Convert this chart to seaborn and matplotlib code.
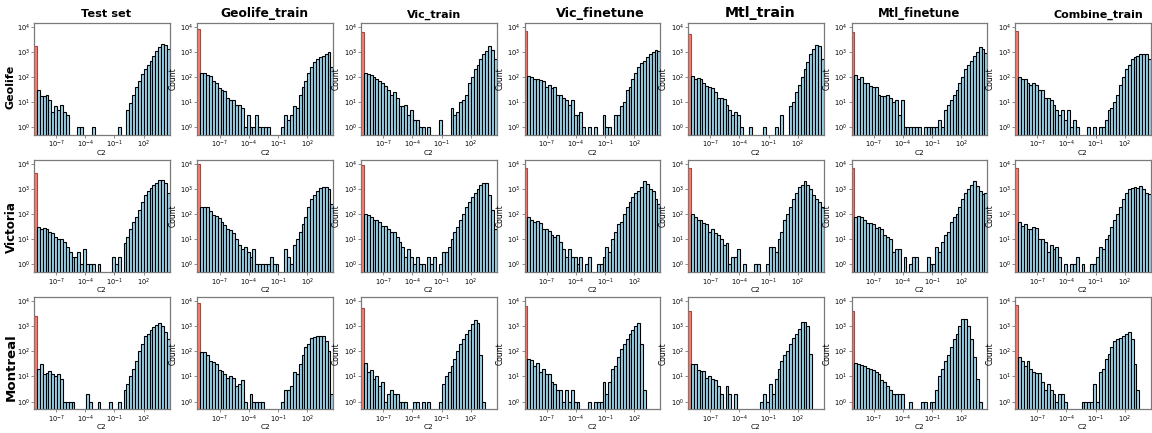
import numpy as np
import pandas as pd
import matplotlib
matplotlib.use("Agg")
import matplotlib.pyplot as plt
import seaborn as sns
from matplotlib.ticker import FixedLocator, NullLocator, LogLocator

# ---------------- data (counts per log-spaced bin; first bin = zero-valued C2) -------------
row_names = ["Geolife", "Victoria", "Montreal"]
col_names = ["Test set", "Geolife_train", "Vic_train", "Vic_finetune",
             "Mtl_train", "Mtl_finetune", "Combine_train"]

geolife_test_set = [1700, 30, 18, 17, 19, 12, 4, 7, 5, 8, 4, 3, 0, 0, 0, 1, 1, 0, 0, 0, 1, 0, 0, 0, 0, 0, 0, 0, 0, 1, 0, 0, 5, 9, 20, 40, 70, 130, 200, 300, 450, 700, 1100, 1600, 2000, 1900, 1300]
geolife_geolife_train = [8000, 150, 140, 120, 110, 70, 60, 35, 30, 28, 15, 12, 12, 8, 8, 6, 1, 3, 1, 1, 3, 1, 1, 1, 1, 0, 0, 0, 0, 1, 3, 2, 3, 7, 6, 20, 40, 70, 150, 250, 400, 500, 600, 700, 850, 1000, 250]
geolife_vic_train = [6000, 140, 130, 120, 100, 80, 70, 60, 45, 30, 20, 25, 15, 7, 7, 8, 3, 5, 2, 2, 1, 1, 0, 1, 0, 0, 0, 2, 0, 0, 0, 6, 3, 4, 10, 12, 20, 60, 100, 200, 300, 500, 800, 1100, 1700, 1200, 500]
geolife_vic_finetune = [7000, 110, 100, 80, 80, 75, 70, 40, 50, 35, 40, 20, 20, 15, 12, 8, 12, 3, 3, 4, 1, 0, 1, 0, 1, 0, 0, 3, 1, 1, 0, 3, 3, 7, 10, 30, 40, 80, 150, 250, 350, 450, 600, 800, 1000, 1200, 1100]
geolife_mtl_train = [5000, 110, 80, 90, 80, 60, 45, 40, 35, 25, 15, 14, 13, 8, 5, 3, 4, 3, 1, 0, 0, 1, 0, 0, 0, 0, 1, 0, 0, 0, 1, 0, 3, 0, 0, 7, 10, 25, 50, 100, 200, 400, 800, 1300, 1800, 1700, 500]
geolife_mtl_finetune = [6000, 120, 80, 100, 60, 60, 45, 40, 40, 20, 18, 18, 20, 15, 10, 12, 3, 12, 1, 1, 1, 1, 1, 1, 0, 1, 1, 1, 1, 1, 2, 1, 5, 8, 12, 20, 30, 60, 100, 200, 300, 450, 700, 1000, 1500, 1300, 900]
geolife_combine_train = [7000, 100, 80, 80, 60, 50, 60, 50, 30, 30, 15, 15, 12, 8, 5, 3, 5, 2, 5, 1, 2, 1, 0, 0, 0, 1, 0, 1, 0, 1, 1, 2, 5, 6, 10, 20, 50, 100, 200, 300, 500, 600, 700, 800, 800, 800, 500]

victoria_test_set = [4300, 30, 25, 28, 25, 20, 18, 12, 10, 10, 8, 5, 3, 2, 2, 3, 1, 4, 1, 1, 1, 0, 1, 0, 0, 0, 0, 2, 1, 2, 0, 7, 12, 25, 50, 80, 150, 300, 600, 800, 1100, 1500, 1800, 2300, 2300, 1800, 700]
victoria_geolife_train = [10000, 200, 200, 200, 130, 90, 85, 70, 50, 38, 25, 24, 18, 10, 6, 4, 5, 3, 2, 4, 1, 1, 1, 1, 1, 2, 1, 1, 0, 0, 4, 2, 1, 6, 10, 20, 40, 80, 200, 400, 600, 800, 1100, 1200, 1200, 1000, 250]
victoria_vic_train = [9000, 100, 90, 80, 60, 60, 50, 35, 35, 25, 20, 20, 12, 8, 5, 2, 4, 2, 1, 2, 1, 1, 0, 2, 1, 2, 0, 1, 3, 3, 5, 10, 20, 30, 60, 100, 200, 300, 500, 700, 1000, 1500, 1800, 1700, 600, 150, 25]
victoria_vic_finetune = [7000, 80, 60, 50, 55, 45, 25, 25, 22, 15, 12, 15, 8, 4, 2, 4, 2, 2, 1, 2, 0, 1, 2, 0, 0, 1, 1, 2, 5, 3, 10, 20, 40, 50, 100, 200, 300, 500, 700, 800, 1200, 2000, 1600, 1000, 800, 400, 250]
victoria_mtl_train = [7000, 100, 80, 60, 60, 45, 40, 20, 25, 18, 15, 10, 6, 7, 1, 2, 2, 4, 0, 1, 0, 0, 0, 1, 1, 0, 0, 1, 5, 5, 3, 10, 20, 60, 100, 200, 400, 700, 1200, 1500, 2000, 1500, 1000, 600, 400, 300, 200]
victoria_mtl_finetune = [6500, 80, 85, 80, 60, 45, 45, 40, 28, 30, 25, 15, 12, 10, 3, 4, 4, 0, 2, 0, 1, 2, 2, 0, 0, 0, 2, 1, 1, 5, 3, 8, 15, 20, 50, 80, 100, 200, 400, 700, 1000, 1500, 2000, 1300, 800, 650, 700]
victoria_combine_train = [7000, 50, 35, 40, 25, 25, 30, 28, 10, 10, 8, 3, 6, 4, 5, 2, 0, 1, 0, 1, 1, 2, 0, 1, 0, 0, 1, 1, 2, 5, 4, 10, 15, 30, 60, 100, 200, 400, 700, 1000, 1100, 1200, 1100, 1300, 1000, 700, 650]

montreal_test_set = [2600, 20, 30, 13, 14, 16, 12, 10, 12, 8, 1, 1, 1, 1, 0, 0, 0, 0, 2, 1, 0, 0, 1, 0, 0, 0, 1, 0, 0, 1, 0, 3, 5, 10, 20, 40, 100, 200, 400, 500, 700, 900, 1100, 1300, 1000, 600, 300]
montreal_geolife_train = [8000, 90, 90, 70, 40, 38, 30, 18, 17, 12, 9, 10, 9, 4, 5, 7, 1, 0, 2, 1, 1, 1, 1, 0, 0, 0, 0, 0, 0, 1, 3, 3, 4, 15, 13, 30, 70, 150, 200, 350, 380, 400, 400, 400, 250, 100, 2]
montreal_vic_train = [5000, 35, 15, 18, 8, 10, 4, 6, 1, 2, 3, 2, 2, 1, 1, 1, 0, 0, 1, 1, 0, 1, 0, 1, 0, 0, 0, 1, 5, 10, 15, 25, 50, 100, 200, 300, 500, 700, 1200, 1800, 1300, 70, 1, 0, 0, 0, 0]
montreal_vic_finetune = [6000, 50, 45, 25, 35, 15, 20, 12, 13, 6, 5, 3, 3, 1, 3, 1, 3, 1, 1, 0, 0, 0, 1, 0, 1, 1, 1, 6, 2, 6, 20, 25, 60, 120, 200, 300, 500, 700, 1000, 1300, 200, 3, 0, 0, 0, 0, 0]
montreal_mtl_train = [4000, 30, 32, 18, 16, 17, 9, 10, 8, 7, 4, 2, 0, 4, 2, 0, 2, 0, 0, 0, 0, 0, 0, 0, 0, 1, 2, 1, 5, 2, 8, 20, 40, 70, 100, 200, 350, 500, 800, 1500, 1500, 1000, 80, 0, 0, 0, 0]
montreal_mtl_finetune = [4000, 35, 30, 28, 25, 22, 20, 18, 15, 12, 7, 6, 4, 3, 2, 2, 2, 2, 0, 0, 1, 0, 0, 0, 1, 1, 0, 1, 1, 3, 10, 20, 40, 70, 150, 300, 500, 1000, 2000, 2000, 1000, 300, 60, 8, 1, 0, 0]
montreal_combine_train = [7000, 60, 40, 25, 40, 20, 15, 14, 14, 6, 3, 5, 3, 2, 1, 2, 2, 1, 0, 0, 0, 0, 0, 1, 1, 1, 1, 5, 1, 15, 20, 50, 80, 150, 250, 300, 350, 400, 500, 600, 300, 30, 3, 0, 0, 0, 0]

grid = [
    [geolife_test_set, geolife_geolife_train, geolife_vic_train, geolife_vic_finetune,
     geolife_mtl_train, geolife_mtl_finetune, geolife_combine_train],
    [victoria_test_set, victoria_geolife_train, victoria_vic_train, victoria_vic_finetune,
     victoria_mtl_train, victoria_mtl_finetune, victoria_combine_train],
    [montreal_test_set, montreal_geolife_train, montreal_vic_train, montreal_vic_finetune,
     montreal_mtl_train, montreal_mtl_finetune, montreal_combine_train],
]

# ---------------- layout / style ----------------
LOG_MIN, LOG_MAX, N_BINS = -9.3, 4.7, 47
edges = np.linspace(LOG_MIN, LOG_MAX, N_BINS + 1)
centers = 10 ** ((edges[:-1] + edges[1:]) / 2)

title_sizes = [8.2, 8.8, 8.0, 9.2, 10.2, 8.4, 8.0]
title_x = [0.53, 0.49, 0.54, 0.56, 0.53, 0.50, 0.61]
row_label_sizes = [8.0, 8.6, 9.6]
row_label_y = [87, 227, 367]

plt.rcParams["font.family"] = ["DejaVu Sans"]
fig, axes = plt.subplots(3, 7, figsize=(11.52, 4.33), dpi=100)
fig.subplots_adjust(left=0.0295, right=0.999, bottom=0.055, top=0.947,
                    wspace=0.204, hspace=0.225)

spine_col = "#7a7a7a"
for r in range(3):
    for c in range(7):
        ax = axes[r, c]
        counts = grid[r][c]
        assert len(counts) == N_BINS
        df = pd.DataFrame({"C2": centers, "n": counts})
        sns.histplot(data=df, x="C2", weights="n", bins=N_BINS,
                     binrange=(LOG_MIN, LOG_MAX), log_scale=True,
                     color="skyblue", edgecolor="black", linewidth=0.8,
                     alpha=0.8, ax=ax)
        ax.set_yscale("log", nonpositive="clip")
        ax.patches[0].set_facecolor("salmon")
        ax.patches[0].set_edgecolor("#b5413a")
        ax.set_xlim(10 ** LOG_MIN, 10 ** LOG_MAX)
        ax.set_ylim(0.5, 14000)
        ax.xaxis.set_major_locator(FixedLocator([1e-7, 1e-4, 1e-1, 1e2]))
        ax.xaxis.set_minor_locator(NullLocator())
        ax.yaxis.set_major_locator(LogLocator(base=10, numticks=10))
        ax.yaxis.set_minor_locator(NullLocator())
        ax.tick_params(axis="both", labelsize=4.8, length=2, width=0.6,
                       color=spine_col, pad=1.0)
        for s in ax.spines.values():
            s.set_color(spine_col)
            s.set_linewidth(0.9)
        ax.set_xlabel("C2", fontsize=5.3)
        ax.xaxis.set_label_coords(0.5, -0.135)
        if c == 0:
            ax.set_ylabel("")
        else:
            ax.set_ylabel("Count", fontsize=5.5, labelpad=2)
        if r == 0:
            ax.set_title(col_names[c], fontsize=title_sizes[c], fontweight="bold",
                         pad=4, x=title_x[c])

for r in range(3):
    fig.text(11 / 1152, 1 - row_label_y[r] / 433, row_names[r], rotation=90,
             fontsize=row_label_sizes[r], fontweight="bold", ha="center", va="center")

fig.savefig("out.png", dpi=100)
